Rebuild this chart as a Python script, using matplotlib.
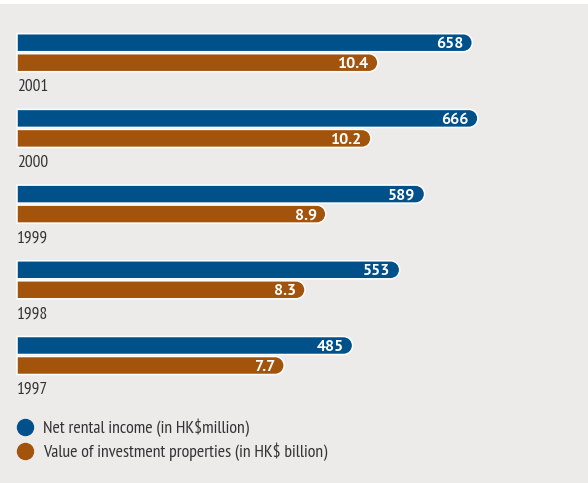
import matplotlib
matplotlib.use('Agg')
import matplotlib.pyplot as plt
from matplotlib.patches import FancyBboxPatch, Rectangle
from matplotlib.path import Path
from matplotlib.lines import Line2D
from matplotlib import font_manager

# ---- data ----
years = ['2001', '2000', '1999', '1998', '1997']
rental_income = [658, 666, 589, 553, 485]          # HK$ million
property_value = [10.4, 10.2, 8.9, 8.3, 7.7]        # HK$ billion
value_labels_rental = ['658', '666', '589', '553', '485']
value_labels_property = ['10.4', '10.2', '8.9', '8.3', '7.7']
legend_labels = ['Net rental income (in HK$million)',
                 'Value of investment properties (in HK$ billion)']

BLUE = '#00508A'
ORANGE = '#A3540C'
BG = '#EDEBE9'
TEXT = '#333333'

names = {f.name for f in font_manager.fontManager.ttflist}


def pick(cands):
    for c in cands:
        if c in names:
            return c
    return 'DejaVu Sans'


NARROW = pick(['PT Sans Narrow', 'Fira Sans Extra Condensed', 'Roboto Condensed'])
BOLDF = pick(['PT Sans', 'Liberation Sans'])

W, H, DPI = 588, 483, 100
fig = plt.figure(figsize=(W / DPI, H / DPI), dpi=DPI, facecolor=BG)
left_px = 17
ax = fig.add_axes([left_px / W, 0, (W - left_px) / W, 1])
ax2 = ax.twiny()

# scales
XB = (W - left_px) / 0.692      # rental axis max
XO = (W - left_px) / 34.7       # property axis max
pitch = 75.7
center0 = 52.7
ylim = ((H - center0) / pitch, -center0 / pitch)
ax.set_xlim(0, XB)
ax2.set_xlim(0, XO)
ax.set_ylim(*ylim)
ax2.set_ylim(*ylim)
for a in (ax, ax2):
    a.set_axis_off()

fig.patches.append(Rectangle((0, 1 - 4 / H), 1, 4 / H, transform=fig.transFigure,
                             facecolor='white', edgecolor='none', zorder=10))

bar_h = 18 / pitch
offset = 10 / pitch
y_per_px = (ylim[0] - ylim[1]) / H


def right_round(x0, y0, width, height, mutation_size):
    r = height / 2
    cx = max(x0 + width - r, x0)
    arc = Path.arc(-90, 90)
    av = arc.vertices * r + [cx, y0 + r]
    codes_arc = list(arc.codes)
    codes_arc[0] = Path.LINETO
    verts = [(x0, y0)] + [tuple(v) for v in av] + [(x0, y0 + height), (x0, y0)]
    codes = [Path.MOVETO] + codes_arc + [Path.LINETO, Path.CLOSEPOLY]
    return Path(verts, codes)


def draw_bars(axis, values, labels, xmax, color, dy):
    x_per_px = xmax / (W - left_px)
    aspect = y_per_px / x_per_px
    for i, (v, lab) in enumerate(zip(values, labels)):
        yc = i + dy
        p = FancyBboxPatch((0, yc - bar_h / 2), v, bar_h, boxstyle=right_round,
                           mutation_aspect=aspect, facecolor=color,
                           edgecolor='white', linewidth=1.1, clip_on=False)
        axis.add_patch(p)
        axis.annotate(lab, xy=(v, yc), xytext=(-6.5, 0), textcoords='offset points',
                      ha='right', va='center_baseline', color='white',
                      fontsize=11.5, fontweight='bold', family=BOLDF)


draw_bars(ax, rental_income, value_labels_rental, XB, BLUE, -offset)
draw_bars(ax2, property_value, value_labels_property, XO, ORANGE, offset)

for i, y in enumerate(years):
    ax.text(0, i + 38.5 / pitch, y, ha='left', va='baseline', color=TEXT,
            fontsize=12.5, family=NARROW)

handles = [Line2D([], [], marker='o', linestyle='none', markersize=11.5,
                  markerfacecolor=c, markeredgecolor=c) for c in (BLUE, ORANGE)]
fs = 12.8
leg = ax2.legend(handles, legend_labels, loc='upper left',
                 bbox_to_anchor=(left_px / W, 1 - 419 / H), bbox_transform=fig.transFigure,
                 frameon=False, borderpad=0, borderaxespad=0, handlelength=0.9,
                 handletextpad=0.55, labelspacing=0.3,
                 prop={'family': NARROW, 'size': fs})
for t in leg.get_texts():
    t.set_color(TEXT)

fig.savefig('out.png', dpi=DPI, facecolor=BG)
